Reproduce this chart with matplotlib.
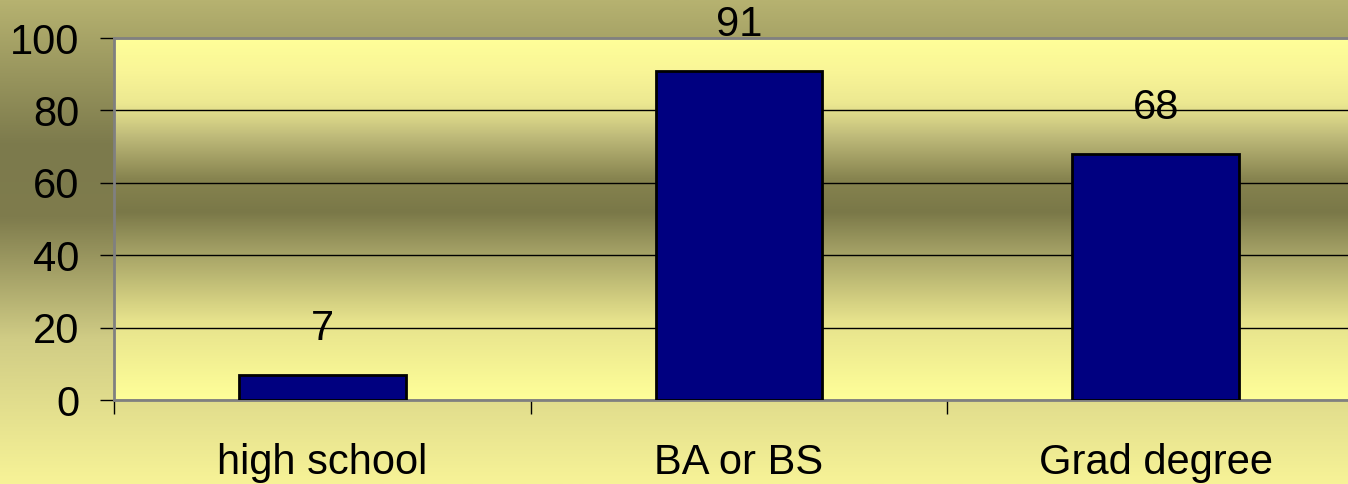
import numpy as np
import matplotlib
matplotlib.use('Agg')
import matplotlib.pyplot as plt
from matplotlib.colors import LinearSegmentedColormap

categories = ['high school', 'BA or BS', 'Grad degree']
values = [7, 91, 68]
y_ticks = [0, 20, 40, 60, 80, 100]

plt.rcParams['font.family'] = ['Liberation Sans', 'DejaVu Sans']

fig = plt.figure(figsize=(13.48, 4.84), dpi=100)

# background gradient for the whole figure
bg = fig.add_axes([0, 0, 1, 1], zorder=-10)
bg_cmap = LinearSegmentedColormap.from_list('bg', [
    (0.0, '#b6b270'), (0.3, '#7c7a4c'), (0.45, '#7f7c4d'),
    (0.7, '#d0cc85'), (1.0, '#f7f397')])
bg.imshow(np.linspace(0, 1, 256).reshape(-1, 1), aspect='auto', cmap=bg_cmap,
          extent=[0, 1, 1, 0])
bg.set_axis_off()

# plot area runs past the right edge of the picture
ax = fig.add_axes([114 / 1348, 1 - 400 / 484, 1250 / 1348, 362 / 484])
ax_cmap = LinearSegmentedColormap.from_list('plot', [
    (0.0, '#ffff99'), (0.22, '#e6e28c'), (0.42, '#a09d63'), (0.52, '#7a7848'),
    (0.61, '#86834f'), (0.73, '#bfbb7a'), (0.82, '#ece891'), (0.91, '#f9f597'),
    (1.0, '#ffff99')])
ax.imshow(np.linspace(0, 1, 256).reshape(-1, 1), aspect='auto', cmap=ax_cmap,
          extent=[0, 3, 100, 0], zorder=0)

x = np.arange(len(categories)) + 0.5
bars = ax.bar(x, values, width=0.4, color='#000080', edgecolor='black',
              linewidth=2, zorder=3)
for xi, v in zip(x, values):
    ax.annotate(str(v), (xi, v), xytext=(0, 33), textcoords='offset points',
                ha='center', va='center', fontsize=30, zorder=4,
                annotation_clip=False)

ax.set_xlim(0, 3)
ax.set_ylim(0, 100)
ax.set_yticks(y_ticks)
ax.set_yticklabels([str(t) for t in y_ticks], fontsize=30)
ax.set_xticks([0, 1, 2, 3])
ax.set_xticklabels([])
ax.set_xticks(x, minor=True)
ax.set_xticklabels(categories, minor=True, fontsize=30)
ax.tick_params(axis='x', which='minor', length=0, pad=31)
ax.tick_params(axis='x', which='major', length=10, width=1, color='black')
ax.tick_params(axis='y', length=10, width=1, color='black', pad=15)

ax.grid(axis='y', color='black', linewidth=1, zorder=1)
for side in ['top', 'left', 'bottom']:
    ax.spines[side].set_color('#808080')
    ax.spines[side].set_linewidth(2)
ax.spines['right'].set_visible(False)

fig.savefig('out.png', dpi=100)
